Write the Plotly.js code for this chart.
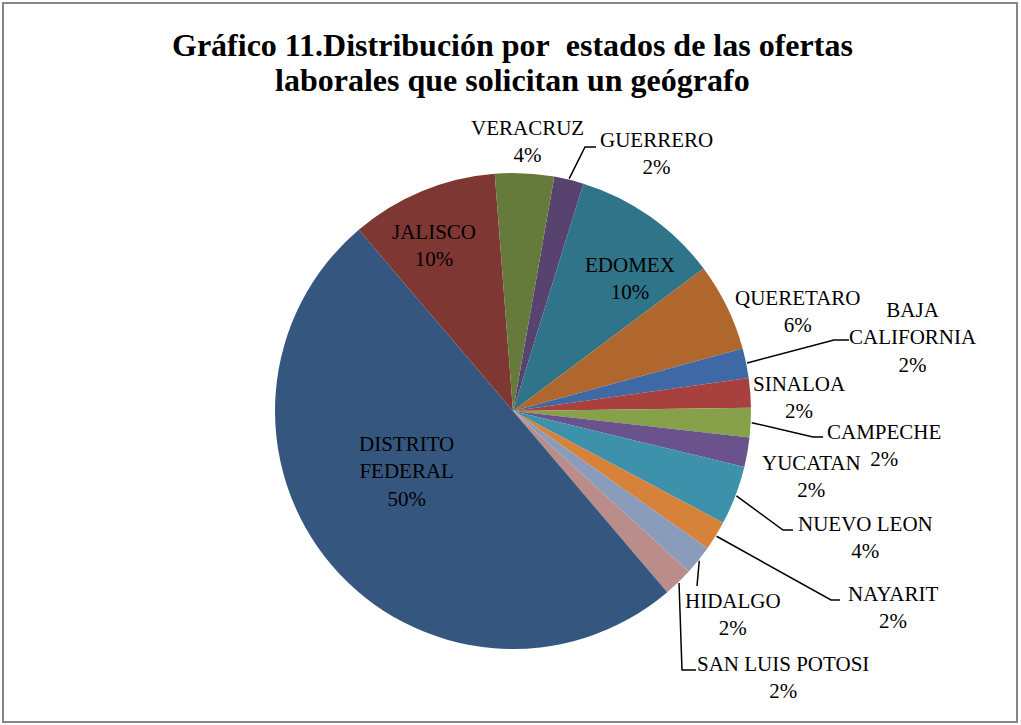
<!DOCTYPE html>
<html>
<head>
<meta charset="utf-8">
<script src="https://cdn.plot.ly/plotly-3.0.1.min.js"></script>
<style>
  html, body { margin: 0; padding: 0; background: #fff; }
  #chart { width: 1021px; height: 725px; }
</style>
</head>
<body>
<div id="chart"></div>
<script>
// --- Data (ofertas por estado, en orden de las rebanadas) ---
const estados = [
  "GUERRERO", "EDOMEX", "QUERETARO", "BAJA CALIFORNIA", "SINALOA", "CAMPECHE",
  "YUCATAN", "NUEVO LEON", "NAYARIT", "HIDALGO", "SAN LUIS POTOSI",
  "DISTRITO FEDERAL", "JALISCO", "VERACRUZ",
];
const ofertas = [1, 5, 3, 1, 1, 1, 1, 2, 1, 1, 1, 25, 5, 2];
const colores = [
  "#58426F", "#30748A", "#AF672E", "#3F69A4", "#A8413D", "#87A14A",
  "#6A538C", "#3D91AB", "#D6823B", "#8A9CBC", "#BA8D8A",
  "#35567F", "#7F3733", "#667A3C",
];
const tituloLineas = [
  "Gráfico 11.Distribución por&nbsp; estados de las ofertas",
  "laborales que solicitan un geógrafo",
];

// --- Layout helpers ---
const W = 1021, H = 725;
const CX = 513, CY = 411, R = 238;
const ROT = 10;
const FONT = "Times New Roman, Liberation Serif, serif";
const px = (x) => x / W;
const py = (y) => 1 - y / H;

// label block centres (pixels) and leader elbows, keyed by state
const labelPos = {
  "GUERRERO": [656, 154], "EDOMEX": [630, 278], "QUERETARO": [797, 311],
  "BAJA CALIFORNIA": [913, 337], "SINALOA": [799, 397], "CAMPECHE": [884, 445],
  "YUCATAN": [811, 477], "NUEVO LEON": [865, 537], "NAYARIT": [893, 607],
  "HIDALGO": [733, 614], "SAN LUIS POTOSI": [783, 677],
  "DISTRITO FEDERAL": [406, 472], "JALISCO": [434, 245], "VERACRUZ": [527, 141],
};
const leaders = {
  "GUERRERO": [[585, 147], [596, 147]],
  "BAJA CALIFORNIA": [[834, 340], [849, 340]],
  "CAMPECHE": [[813, 437], [823, 437]],
  "NUEVO LEON": [[783, 530], [793, 530]],
  "NAYARIT": [[831, 600], [840, 600]],
  "HIDALGO": [[697, 586], [697, 586]],
  "SAN LUIS POTOSI": [[682, 670], [696, 670]],
};
const lineBreaks = {
  "DISTRITO FEDERAL": "DISTRITO<br>FEDERAL",
  "BAJA CALIFORNIA": "BAJA<br>CALIFORNIA",
};

const total = ofertas.reduce((a, b) => a + b, 0);

// mid angle of each slice (clockwise from 12 o'clock)
const midAngles = [];
let acc = 0;
ofertas.forEach((v) => {
  midAngles.push(ROT + (acc + v / 2) / total * 360);
  acc += v;
});

const annotations = estados.map((e, i) => {
  const [x, y] = labelPos[e];
  const pct = Math.round((ofertas[i] / total) * 100) + "%";
  return {
    xref: "paper", yref: "paper",
    x: px(x), y: py(y),
    xanchor: "center", yanchor: "middle", align: "center",
    text: (lineBreaks[e] || e) + "<br>" + pct,
    showarrow: false,
    font: { family: FONT, size: 21, color: "#000" },
  };
});

// title, one annotation per line to keep the tight line spacing
[45, 80].forEach((y, i) => {
  annotations.push({
    xref: "paper", yref: "paper",
    x: px(512), y: py(y),
    xanchor: "center", yanchor: "middle",
    text: "<b>" + tituloLineas[i] + "</b>",
    showarrow: false,
    font: { family: FONT, size: 32, color: "#000" },
  });
});

const shapes = [
  {
    type: "rect", xref: "paper", yref: "paper",
    x0: px(3), x1: px(1017), y0: py(3), y1: py(722),
    line: { color: "#868686", width: 2 },
  },
];

estados.forEach((e, i) => {
  if (!leaders[e]) return;
  const a = (midAngles[i] * Math.PI) / 180;
  const sx = CX + (R + 1) * Math.sin(a);
  const sy = CY - (R + 1) * Math.cos(a);
  const [[ex, ey], [tx, ty]] = leaders[e];
  shapes.push({
    type: "path", xref: "paper", yref: "paper",
    path: `M ${px(sx)} ${py(sy)} L ${px(ex)} ${py(ey)} L ${px(tx)} ${py(ty)}`,
    line: { color: "#000", width: 1.5 },
  });
});

const trace = {
  type: "pie",
  labels: estados,
  values: ofertas,
  sort: false,
  direction: "clockwise",
  rotation: ROT,
  marker: { colors: colores, line: { width: 0 } },
  textinfo: "none",
  hoverinfo: "label+percent",
  showlegend: false,
  domain: {
    x: [px(CX - R), px(CX + R)],
    y: [py(CY + R), py(CY - R)],
  },
};

const layout = {
  width: W,
  height: H,
  margin: { l: 0, r: 0, t: 0, b: 0 },
  paper_bgcolor: "#fff",
  annotations,
  shapes,
};

Plotly.newPlot("chart", [trace], layout, { displayModeBar: false, staticPlot: true });
</script>
</body>
</html>
